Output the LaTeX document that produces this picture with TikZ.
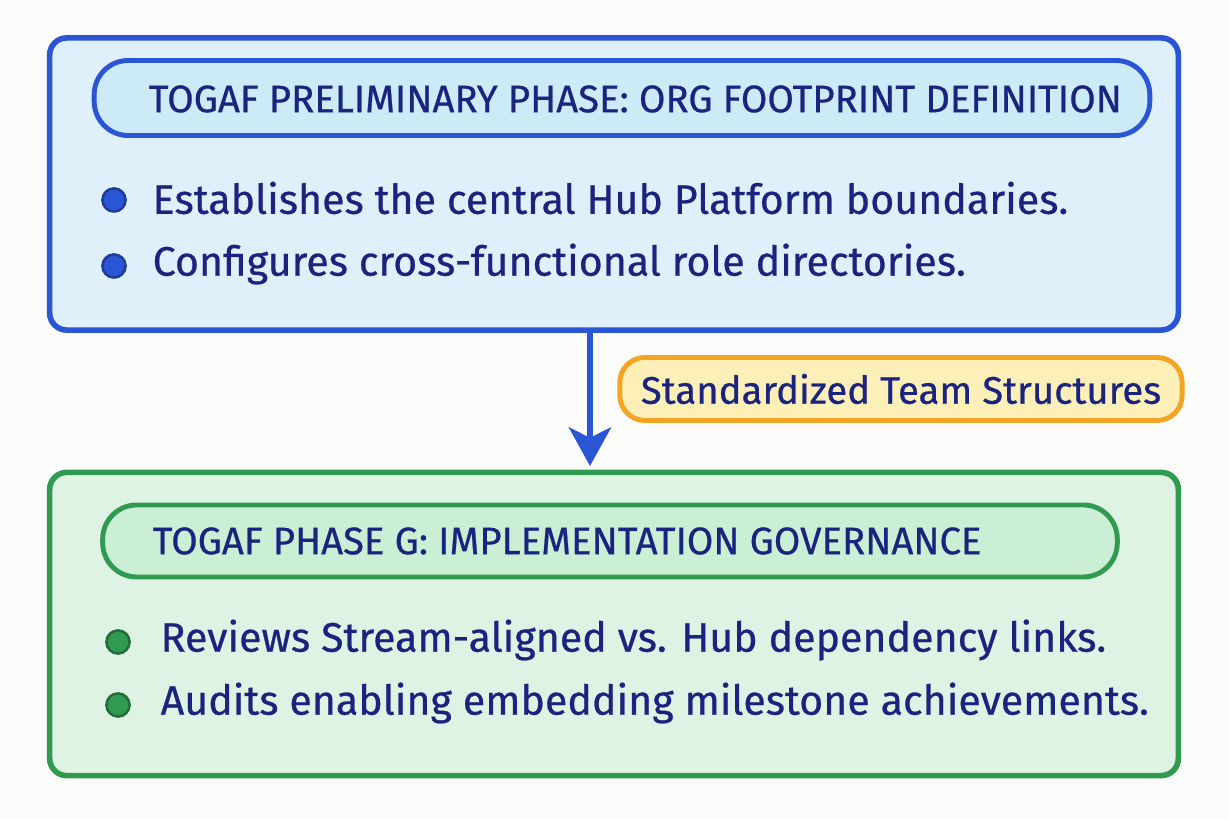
\documentclass[tikz,border=0pt]{standalone}
\usepackage{fontspec}
\setmainfont{Fira Sans}
\newfontfamily\handfont[FakeBold=0.6]{Fira Sans}
\usepackage{tikz}
\usetikzlibrary{arrows.meta}
\definecolor{paper}{HTML}{FBFBF9}
\definecolor{ink}{HTML}{1A237E}
\definecolor{blueline}{HTML}{2A55D4}
\definecolor{bluefill}{HTML}{E0F0FA}
\definecolor{bluepill}{HTML}{CDEAF7}
\definecolor{greenline}{HTML}{2F9A50}
\definecolor{greenfill}{HTML}{DFF3E5}
\definecolor{greenpill}{HTML}{CBEFD5}
\definecolor{orangeline}{HTML}{F2A422}
\definecolor{orangefill}{HTML}{FDEFB8}
\tikzset{panel/.style={draw, line width=1.6pt, rounded corners=0.17cm, inner sep=0pt},
  pill/.style={draw, line width=1.4pt, rounded corners=0.34cm, inner sep=0pt},
  title/.style={anchor=west, text=ink, inner sep=0pt, font=\handfont\fontsize{10.9}{14}\selectfont},
  item/.style={anchor=west, text=ink, inner sep=0pt, font=\handfont\fontsize{11.7}{14}\selectfont},
  dot/.style={circle, inner sep=0pt, minimum size=6.6pt, line width=0.7pt}}

\begin{document}
\begin{tikzpicture}[x=0.01cm, y=-0.01cm]
    \fill [paper] (0,0) rectangle (1229,819);
    % upper phase
    \node [panel, draw=blueline, fill=bluefill, minimum width=11.28cm, minimum height=2.92cm] (prelim) at (614,184) {};
    \node [pill, draw=blueline, fill=bluepill, minimum width=10.55cm, minimum height=0.75cm] (prelimhead) at (622,98) {};
    \node [title] (prelimtitle) at (148,99) {TOGAF PRELIMINARY PHASE: ORG FOOTPRINT DEFINITION};
    \foreach \y/\txt [count=\i] in {198/Establishes the central Hub Platform boundaries., 264/Configures cross-functional role directories.} {
      \node [dot, draw=blueline!70!black, fill=blueline] (pdot\i) at (114,\y+2) {};
      \node [item] (pitem\i) at (152,\y) {\txt};
    }
    % lower phase
    \node [panel, draw=greenline, fill=greenfill, minimum width=11.28cm, minimum height=3.03cm] (govern) at (614,624) {};
    \node [pill, draw=greenline, fill=greenpill, minimum width=10.14cm, minimum height=0.72cm] (governhead) at (610,541) {};
    \node [title] (governtitle) at (152,541) {TOGAF PHASE G: IMPLEMENTATION GOVERNANCE};
    \foreach \y/\txt [count=\i] in {640/Reviews Stream-aligned vs. Hub dependency links., 703/Audits enabling embedding milestone achievements.} {
      \node [dot, draw=greenline!70!black, fill=greenline] (gdot\i) at (118,\y+2) {};
      \node [item] (gitem\i) at (160,\y) {\txt};
    }
    % connector
    \coordinate (armtop) at (590,330);
    \coordinate (armend) at (590,466);
    \draw [blueline, line width=1.7pt, -{Stealth[length=11pt, width=12pt, inset=3pt]}] (armtop) -- (armend);
    \node [pill, draw=orangeline, fill=orangefill, rounded corners=0.25cm, minimum width=5.62cm, minimum height=0.63cm] (flow) at (901,389) {};
    \node [item, anchor=center, font=\handfont\fontsize{10.9}{14}\selectfont] (flowtext) at (flow) {Standardized Team Structures};
  \end{tikzpicture}
\end{document}
